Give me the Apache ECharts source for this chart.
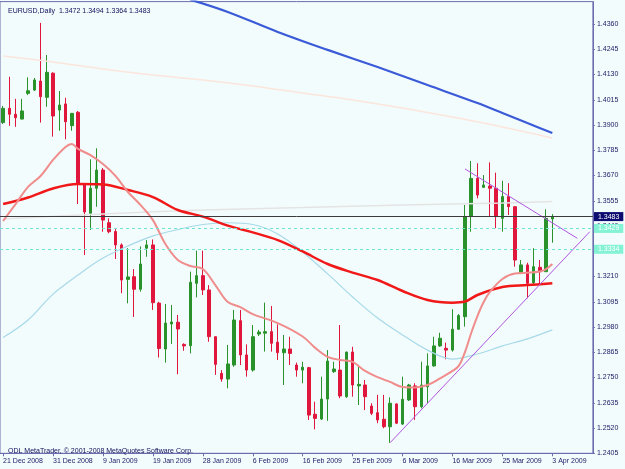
<!DOCTYPE html>
<html><head><meta charset="utf-8">
<script src="https://cdn.jsdelivr.net/npm/echarts@6/dist/echarts.min.js"></script>
<style>html,body{margin:0;padding:0;background:#F3FCFC;}#c{width:625px;height:469px;}</style>
</head><body><div id="c"></div>
<script>
// ---- data ----
const dates = ["21 Dec 2008","22 Dec 2008","23 Dec 2008","24 Dec 2008","26 Dec 2008","28 Dec 2008","29 Dec 2008","30 Dec 2008","31 Dec 2008","1 Jan 2009",
"2 Jan 2009","4 Jan 2009","5 Jan 2009","6 Jan 2009","7 Jan 2009","8 Jan 2009","9 Jan 2009","11 Jan 2009","12 Jan 2009","13 Jan 2009",
"14 Jan 2009","15 Jan 2009","16 Jan 2009","18 Jan 2009","19 Jan 2009","20 Jan 2009","21 Jan 2009","22 Jan 2009","23 Jan 2009","25 Jan 2009",
"26 Jan 2009","27 Jan 2009","28 Jan 2009","29 Jan 2009","30 Jan 2009","1 Feb 2009","2 Feb 2009","3 Feb 2009","4 Feb 2009","5 Feb 2009",
"6 Feb 2009","8 Feb 2009","9 Feb 2009","10 Feb 2009","11 Feb 2009","12 Feb 2009","13 Feb 2009","15 Feb 2009","16 Feb 2009","17 Feb 2009",
"18 Feb 2009","19 Feb 2009","20 Feb 2009","22 Feb 2009","23 Feb 2009","24 Feb 2009","25 Feb 2009","26 Feb 2009","27 Feb 2009","1 Mar 2009",
"2 Mar 2009","3 Mar 2009","4 Mar 2009","5 Mar 2009","6 Mar 2009","8 Mar 2009","9 Mar 2009","10 Mar 2009","11 Mar 2009","12 Mar 2009",
"13 Mar 2009","15 Mar 2009","16 Mar 2009","17 Mar 2009","18 Mar 2009","19 Mar 2009","20 Mar 2009","22 Mar 2009","23 Mar 2009","24 Mar 2009",
"25 Mar 2009","26 Mar 2009","27 Mar 2009","29 Mar 2009","30 Mar 2009","31 Mar 2009","1 Apr 2009","2 Apr 2009","3 Apr 2009"];
const futureDates = ["5 Apr 2009","6 Apr 2009","7 Apr 2009","8 Apr 2009","9 Apr 2009","10 Apr 2009"];

const opens = [1.3911,1.3976,1.3949,1.3927,1.4044,1.4059,1.4100,1.4026,1.4136,1.3968,
1.3996,1.3897,1.3958,1.3627,1.3498,1.3612,1.3695,1.3455,1.3415,1.3354,
1.3197,1.3209,1.3152,1.3339,1.3354,1.3089,1.2880,1.2994,1.3002,1.2901,
1.2895,1.3179,1.3214,1.3149,1.2936,1.2769,1.2743,1.2807,1.3009,1.2853,
1.2784,1.2948,1.2952,1.2959,1.2911,1.2863,1.2880,1.2807,1.2784,1.2795,
1.2583,1.2561,1.2652,1.2777,1.2784,1.2663,1.2866,1.2712,1.2716,1.2620,
1.2590,1.2560,1.2526,1.2630,1.2538,1.2648,1.2712,1.2617,1.2708,1.2803,
1.2894,1.2883,1.2875,1.2970,1.3027,1.3483,1.3657,1.3616,1.3622,1.3612,
1.3475,1.3574,1.3528,1.3225,1.3263,1.3182,1.3252,1.3232,1.3472];
const closes = [1.3976,1.3949,1.3933,1.3964,1.4056,1.4105,1.4029,1.4140,1.3941,1.3991,
1.3915,1.3953,1.3635,1.3504,1.3612,1.3695,1.3467,1.3414,1.3354,1.3194,
1.3208,1.3152,1.3267,1.3354,1.3091,1.2882,1.2998,1.3003,1.2971,1.2894,
1.3184,1.3214,1.3149,1.2936,1.2810,1.2743,1.2812,1.3012,1.2853,1.2784,
1.2936,1.2957,1.2959,1.2906,1.2863,1.2880,1.2860,1.2784,1.2797,1.2579,
1.2564,1.2652,1.2825,1.2789,1.2666,1.2866,1.2716,1.2719,1.2663,1.2587,
1.2557,1.2526,1.2633,1.2542,1.2651,1.2716,1.2617,1.2716,1.2803,1.2894,
1.2929,1.2875,1.2970,1.3032,1.3483,1.3657,1.3581,1.3627,1.3612,1.3483,
1.3574,1.3528,1.3285,1.3263,1.3179,1.3255,1.3232,1.3475,1.3483];
const lows = [1.3905,1.3896,1.3892,1.3926,1.4037,1.4055,1.3911,1.3983,1.3847,1.3874,
1.3835,1.3874,1.3540,1.3308,1.3422,1.3528,1.3414,1.3407,1.3290,1.3134,
1.3088,1.3026,1.3141,1.3300,1.3058,1.2841,1.2818,1.2903,1.2765,1.2872,
1.2860,1.3115,1.3126,1.2913,1.2762,1.2731,1.2701,1.2799,1.2807,1.2754,
1.2777,1.2939,1.2868,1.2868,1.2830,1.2716,1.2807,1.2754,1.2724,1.2557,
1.2514,1.2557,1.2553,1.2771,1.2656,1.2657,1.2663,1.2625,1.2602,1.2579,
1.2542,1.2519,1.2453,1.2538,1.2534,1.2643,1.2557,1.2610,1.2633,1.2799,
1.2890,1.2833,1.2868,1.2967,1.2982,1.3414,1.3566,1.3616,1.3483,1.3430,
1.3414,1.3490,1.3255,1.3221,1.3111,1.3171,1.3171,1.3232,1.3364];
const highs = [1.3987,1.4120,1.4019,1.4019,1.4117,1.4114,1.4365,1.4219,1.4140,1.4055,
1.4024,1.3955,1.3964,1.3627,1.3744,1.3794,1.3704,1.3475,1.3426,1.3361,
1.3339,1.3244,1.3347,1.3376,1.3379,1.3095,1.3085,1.3080,1.3035,1.2906,
1.3232,1.3328,1.3328,1.3171,1.2936,1.2784,1.2898,1.3058,1.3058,1.2901,
1.2989,1.2967,1.3091,1.3076,1.2992,1.2944,1.2936,1.2818,1.2822,1.2799,
1.2640,1.2754,1.2875,1.2822,1.2989,1.2868,1.2890,1.2807,1.2739,1.2633,
1.2671,1.2671,1.2660,1.2632,1.2754,1.2721,1.2724,1.2822,1.2860,1.2936,
1.2954,1.2909,1.3061,1.3039,1.3536,1.3736,1.3726,1.3672,1.3730,1.3683,
1.3646,1.3635,1.3528,1.3285,1.3273,1.3339,1.3285,1.3516,1.3494];

// moving-average curves: [bar index, price]
const maRed = [[0,1.3540],[4,1.3570],[8,1.3611],[12,1.3631],[16,1.3629],[20,1.3604],[24,1.3572],[28,1.3513],[32,1.3483],[36,1.3442],[40,1.3411],[44,1.3376],[48,1.3324],[52,1.3267],[56,1.3228],[60,1.3194],[64,1.3144],[68,1.3103],[72,1.3091],[74,1.3096],[76,1.3126],[80,1.3162],[84,1.3171],[88,1.3179]];
const maSalmon = [[0,1.3463],[2,1.3540],[4,1.3618],[6,1.3668],[8,1.3741],[10,1.3800],[11,1.3814],[12,1.3791],[14,1.3763],[16,1.3722],[18,1.3668],[20,1.3595],[22,1.3536],[24,1.3467],[26,1.3358],[28,1.3285],[30,1.3258],[32,1.3244],[34,1.3171],[36,1.3094],[38,1.3071],[40,1.3039],[44,1.2998],[48,1.2937],[50,1.2885],[52,1.2844],[54,1.2830],[56,1.2821],[58,1.2780],[60,1.2752],[62,1.2730],[64,1.2707],[66,1.2705],[68,1.2716],[70,1.2746],[72,1.2780],[73,1.2803],[74,1.2866],[75,1.2953],[76,1.3030],[77,1.3094],[78,1.3140],[80,1.3199],[82,1.3224],[84,1.3227],[86,1.3233],[87,1.3244],[88,1.3267]];
const maLightBlue = [[0,1.2932],[4,1.3012],[8,1.3130],[12,1.3217],[16,1.3294],[20,1.3349],[24,1.3395],[28,1.3424],[32,1.3447],[36,1.3455],[40,1.3447],[44,1.3404],[48,1.3322],[52,1.3222],[56,1.3117],[60,1.3021],[64,1.2944],[68,1.2875],[72,1.2834],[76,1.2857],[80,1.2894],[84,1.2926],[88,1.2967]];
const maBlue = [[30,1.4471],[36,1.4415],[44,1.4324],[52,1.4242],[60,1.4164],[68,1.4082],[76,1.4000],[80,1.3955],[84,1.3909],[88,1.3864]];
const maPink = [[0,1.4214],[8,1.4187],[16,1.4155],[24,1.4128],[32,1.4105],[40,1.4078],[48,1.4046],[56,1.4014],[64,1.3977],[72,1.3936],[80,1.3891],[88,1.3841]];
const maGrey = [[0,1.3472],[16,1.3495],[32,1.3513],[48,1.3524],[64,1.3536],[80,1.3545],[88,1.3552]];

const supportLine = [[62,1.2453],[94,1.3414]];
const resistanceLine = [[74,1.3700],[92,1.3384]];

const bidPrice = 1.3483;
const levels = [1.3429, 1.3334];
const yTickStart = 1.2405, yTickStep = 0.0115, yTop = 1.4462;
const titleText = "EURUSD,Daily  1.3472 1.3494 1.3364 1.3483";
const footText = "ODL MetaTrader, \u00a9 2001-2008 MetaQuotes Software Corp.";

// ---- chart ----
const FONT = "'Liberation Sans', Arial, sans-serif";
const TXT = '#1a1a66';
const AX = '#6c6cae';
const cats = dates.concat(futureDates);
const candles = opens.map((o, i) => [o, closes[i], lows[i], highs[i]]);

function lineSeries(data, color, width) {
  return {type:'line', data:data, smooth:0.35, symbol:'none', clip:true, z:3, silent:true,
    lineStyle:{color:color, width:width}, animation:false};
}
const fmt = v => v.toFixed(4);
const chart = echarts.init(document.getElementById('c'), null, {renderer:'canvas'});
chart.setOption({
  backgroundColor:'#F3FCFC',
  animation:false,
  textStyle:{fontFamily:FONT},
  title:[
    {text:titleText, left:3, top:3, textStyle:{fontSize:7, fontWeight:'normal', color:'#10105a', fontFamily:FONT}},
    {text:footText, left:3, top:443, textStyle:{fontSize:7, fontWeight:'normal', color:'#10105a', fontFamily:FONT}}
  ],
  grid:{left:0, right:32.1, top:1.6, bottom:15.7, show:true, borderColor:AX, borderWidth:1, backgroundColor:'transparent'},
  xAxis:{type:'category', data:cats, boundaryGap:true,
    axisLine:{show:true, lineStyle:{color:AX, width:1}},
    axisTick:{show:true, interval:7, alignWithLabel:true, length:3, lineStyle:{color:AX}},
    axisLabel:{interval:7, align:'left', fontSize:7, color:TXT, margin:4, fontFamily:FONT},
    splitLine:{show:false}},
  yAxis:{type:'value', position:'right', min:yTickStart, max:yTop, interval:yTickStep,
    axisLine:{show:true, lineStyle:{color:AX}},
    axisTick:{show:true, length:2, lineStyle:{color:AX}},
    axisLabel:{fontSize:7, color:TXT, margin:4, fontFamily:FONT, formatter:fmt, showMaxLabel:false},
    splitLine:{show:false}},
  series:[
    {type:'candlestick', data:candles, barWidth:3, z:2, silent:true,
      itemStyle:{color:'#2a922a', color0:'#e0163c', borderColor:'#2a922a', borderColor0:'#e0163c', borderWidth:1},
      markLine:{symbol:'none', silent:true, animation:false, precision:4,
        data:[
          {yAxis:bidPrice, lineStyle:{color:'#3c3c3c', type:'solid', width:1},
            label:{show:true, position:'end', distance:1, formatter:p=>fmt(p.value), backgroundColor:'#0c0c70', color:'#ffffff', fontSize:7, fontFamily:FONT, padding:[1,4,1,4]}},
          {yAxis:levels[0], lineStyle:{color:'#6fe3d2', type:[3,3], width:1},
            label:{show:true, position:'end', distance:1, formatter:p=>fmt(p.value), backgroundColor:'#84f2d4', color:'#ffffff', fontSize:7, fontFamily:FONT, padding:[1,4,1,4]}},
          {yAxis:levels[1], lineStyle:{color:'#6fe3d2', type:[3,3], width:1},
            label:{show:true, position:'end', distance:1, formatter:p=>fmt(p.value), backgroundColor:'#84f2d4', color:'#ffffff', fontSize:7, fontFamily:FONT, padding:[1,4,1,4]}}
        ]}},
    lineSeries(maPink, '#fbe5dd', 1.5),
    lineSeries(maGrey, '#e4e4e4', 1.5),
    lineSeries(maLightBlue, '#a6d9ea', 1.2),
    lineSeries(maBlue, '#3a5ad8', 2.2),
    lineSeries(maRed, '#f01818', 2.5),
    lineSeries(maSalmon, '#f08c8c', 2),
    {type:'line', data:supportLine, symbol:'none', z:4, silent:true, lineStyle:{color:'#b055e0', width:1}},
    {type:'line', data:resistanceLine, symbol:'none', z:4, silent:true, lineStyle:{color:'#b055e0', width:1}}
  ]
});
</script></body></html>
